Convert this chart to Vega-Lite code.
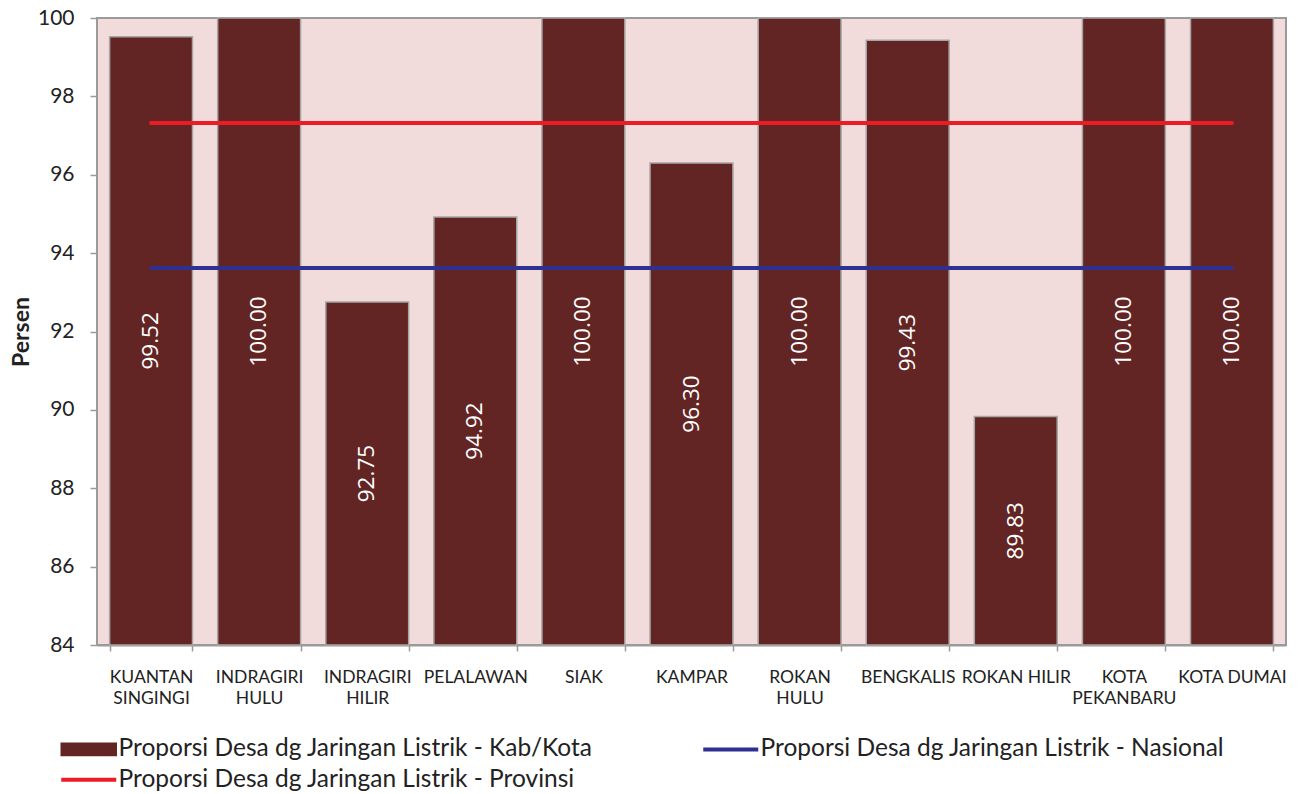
{
  "$schema": "https://vega.github.io/schema/vega-lite/v6.json",
  "width": 1189,
  "height": 627,
  "autosize": {"type": "none"},
  "padding": {"left": 97, "top": 18, "right": 12, "bottom": 149},
  "background": "white",
  "config": {
    "view": {"fill": "#F2DCDB", "stroke": "#9A9A9A", "strokeWidth": 2},
    "font": "Lato",
    "axis": {"labelFont": "Lato", "titleFont": "Lato", "labelColor": "#222222", "titleColor": "#222222", "grid": false, "tickColor": "#9A9A9A", "domainColor": "#9A9A9A", "tickWidth": 1.5, "domainWidth": 2}
  },
  "datasets": {
    "bars": [
      {"cat": "KUANTAN|SINGINGI", "value": 99.52, "series": "Proporsi Desa dg Jaringan Listrik - Kab/Kota"},
      {"cat": "INDRAGIRI|HULU", "value": 100.00, "series": "Proporsi Desa dg Jaringan Listrik - Kab/Kota"},
      {"cat": "INDRAGIRI|HILIR", "value": 92.75, "series": "Proporsi Desa dg Jaringan Listrik - Kab/Kota"},
      {"cat": "PELALAWAN", "value": 94.92, "series": "Proporsi Desa dg Jaringan Listrik - Kab/Kota"},
      {"cat": "SIAK", "value": 100.00, "series": "Proporsi Desa dg Jaringan Listrik - Kab/Kota"},
      {"cat": "KAMPAR", "value": 96.30, "series": "Proporsi Desa dg Jaringan Listrik - Kab/Kota"},
      {"cat": "ROKAN|HULU", "value": 100.00, "series": "Proporsi Desa dg Jaringan Listrik - Kab/Kota"},
      {"cat": "BENGKALIS", "value": 99.43, "series": "Proporsi Desa dg Jaringan Listrik - Kab/Kota"},
      {"cat": "ROKAN HILIR", "value": 89.83, "series": "Proporsi Desa dg Jaringan Listrik - Kab/Kota"},
      {"cat": "KOTA|PEKANBARU", "value": 100.00, "series": "Proporsi Desa dg Jaringan Listrik - Kab/Kota"},
      {"cat": "KOTA DUMAI", "value": 100.00, "series": "Proporsi Desa dg Jaringan Listrik - Kab/Kota"}
    ],
    "lines": [
      {"series": "Proporsi Desa dg Jaringan Listrik - Nasional", "value": 93.62, "start": "KUANTAN|SINGINGI", "end": "KOTA DUMAI"},
      {"series": "Proporsi Desa dg Jaringan Listrik - Provinsi", "value": 97.32, "start": "KUANTAN|SINGINGI", "end": "KOTA DUMAI"}
    ]
  },
  "layer": [
    {
      "data": {"name": "bars"},
      "mark": {"type": "bar", "stroke": "#A6A6A6", "strokeWidth": 1.5},
      "encoding": {
        "x": {
          "field": "cat", "type": "nominal", "sort": null,
          "scale": {"paddingInner": 0.233, "paddingOuter": 0.1165},
          "axis": {"title": null, "labelAngle": 0, "labelExpr": "split(datum.label, '|')", "labelFontSize": 17.5, "labelLineHeight": 21, "labelPadding": 17, "tickBand": "extent", "tickSize": 6, "labelLimit": 0, "labelBaseline": "top"}
        },
        "y": {
          "field": "value", "type": "quantitative",
          "scale": {"domain": [84, 100], "zero": false, "nice": false, "clamp": true},
          "axis": {"title": "Persen", "values": [84, 86, 88, 90, 92, 94, 96, 98, 100], "labelFontSize": 21, "labelPadding": 16, "tickSize": 7, "titleFontSize": 23, "titleFontWeight": "bold", "titlePadding": 4, "domain": false}
        },
        "y2": {"datum": 84},
        "color": {
          "field": "series", "type": "nominal",
          "scale": {
            "domain": ["Proporsi Desa dg Jaringan Listrik - Kab/Kota", "Proporsi Desa dg Jaringan Listrik - Nasional", "Proporsi Desa dg Jaringan Listrik - Provinsi"],
            "range": ["#632523", "#2E3192", "#ED1C24"]
          },
          "legend": {
            "title": null, "orient": "none", "direction": "horizontal", "legendX": -37, "legendY": 719, "columns": 2, "columnPadding": 102, "rowPadding": 5.5,
            "labelFont": "Lato", "labelFontSize": 24.5, "labelColor": "#222222", "labelOffset": 34, "labelLimit": 0,
            "symbolSize": 484,
            "symbolType": {"expr": "datum.value == 'Proporsi Desa dg Jaringan Listrik - Kab/Kota' ? 'M-1,-0.55H4V0.55H-1Z' : 'M-1,0H4'"},
            "symbolFillColor": {"expr": "datum.value == 'Proporsi Desa dg Jaringan Listrik - Kab/Kota' ? '#632523' : 'transparent'"},
            "symbolStrokeColor": {"expr": "datum.value == 'Proporsi Desa dg Jaringan Listrik - Kab/Kota' ? '#A6A6A6' : (datum.value == 'Proporsi Desa dg Jaringan Listrik - Nasional' ? '#2E3192' : '#ED1C24')"},
            "symbolStrokeWidth": {"expr": "datum.value == 'Proporsi Desa dg Jaringan Listrik - Kab/Kota' ? 1.5 : 4"},
            "symbolOpacity": 1
          }
        }
      }
    },
    {
      "data": {"name": "bars"},
      "mark": {"type": "text", "angle": 270, "align": "center", "baseline": "middle", "color": "white", "font": "Open Sans", "fontSize": 22.5, "y": {"expr": "scale('y', (datum.value + 84) / 2)"}},
      "encoding": {
        "x": {"field": "cat", "type": "nominal", "sort": null},
        "text": {"field": "value", "type": "quantitative", "format": ".2f"}
      }
    },
    {
      "data": {"name": "lines"},
      "mark": {"type": "rule", "strokeWidth": 4, "strokeCap": "round"},
      "encoding": {
        "x": {"field": "start", "type": "nominal", "sort": null, "bandPosition": 0.5},
        "x2": {"field": "end"},
        "y": {"field": "value", "type": "quantitative"},
        "color": {
          "field": "series", "type": "nominal",
          "scale": {
            "domain": ["Proporsi Desa dg Jaringan Listrik - Kab/Kota", "Proporsi Desa dg Jaringan Listrik - Nasional", "Proporsi Desa dg Jaringan Listrik - Provinsi"],
            "range": ["#632523", "#2E3192", "#ED1C24"]
          }
        }
      }
    }
  ]
}
